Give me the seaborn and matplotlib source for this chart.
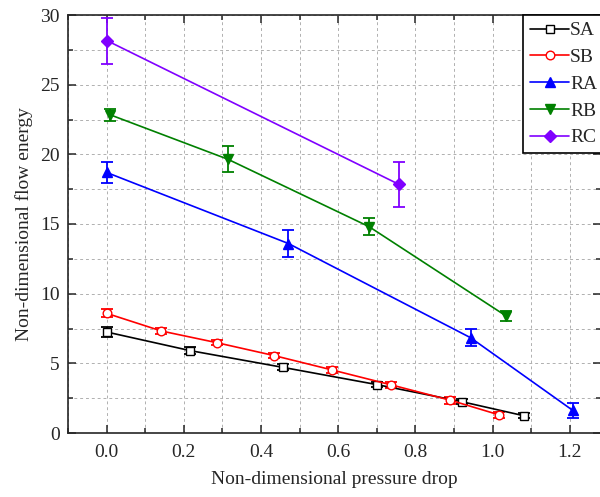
import numpy as np
import pandas as pd
import matplotlib
matplotlib.use("Agg")
import matplotlib.pyplot as plt
from matplotlib.ticker import MultipleLocator, FormatStrFormatter
import seaborn as sns

# data
sa_x = [0.0, 0.217, 0.457, 0.701, 0.920, 1.081]
sa_y = [7.25, 5.91, 4.71, 3.47, 2.25, 1.24]
sa_err = [0.35, 0.25, 0.22, 0.2, 0.2, 0.18]

sb_x = [0.0, 0.142, 0.286, 0.435, 0.585, 0.738, 0.891, 1.016]
sb_y = [8.59, 7.32, 6.48, 5.55, 4.52, 3.45, 2.35, 1.31]
sb_err = [0.3, 0.25, 0.2, 0.2, 0.2, 0.2, 0.25, 0.22]

ra_x = [0.0, 0.471, 0.943, 1.208]
ra_y = [18.7, 13.6, 6.84, 1.62]
ra_err = [0.78, 1.0, 0.6, 0.55]

rb_x = [0.01, 0.314, 0.680, 1.035]
rb_y = [22.83, 19.65, 14.81, 8.40]
rb_err = [0.45, 0.95, 0.6, 0.35]

rc_x = [0.001, 0.757]
rc_y = [28.16, 17.85]
rc_err = [1.65, 1.62]

names = ["SA", "SB", "RA", "RB", "RC"]
colors = ["black", "red", "#0000ff", "#008000", "#8000ff"]
markers = ["s", "o", "^", "v", "D"]
faces = ["white", "white", "#0000ff", "#008000", "#8000ff"]
msizes = [5.5, 6.2, 7.5, 7.5, 6.5]

series = [(sa_x, sa_y, sa_err), (sb_x, sb_y, sb_err), (ra_x, ra_y, ra_err),
          (rb_x, rb_y, rb_err), (rc_x, rc_y, rc_err)]

sns.set_style("ticks")
plt.rcParams["font.family"] = ["Liberation Serif", "DejaVu Serif"]
plt.rcParams["font.size"] = 14

fig = plt.figure(figsize=(6, 4.97), dpi=100)
ax = fig.add_axes([68 / 600, 64 / 497, 532.6 / 600, 418 / 497])

for name, col, mk, fc, ms, (xs, ys, es) in zip(names, colors, markers, faces, msizes, series):
    df = pd.DataFrame({"x": xs, "y": ys})
    ax.errorbar(xs, ys, yerr=es, fmt="none", ecolor=col, elinewidth=1.3,
                capsize=4, capthick=1.3, zorder=3)
    sns.lineplot(data=df, x="x", y="y", ax=ax, color=col, marker=mk,
                 markersize=ms, markerfacecolor=fc, markeredgecolor=col,
                 markeredgewidth=1.0, linewidth=1.2, label=name, zorder=4,
                 sort=False)

ax.set_xlim(-0.1, 1.28)
ax.set_ylim(0, 30)
ax.xaxis.set_major_locator(MultipleLocator(0.2))
ax.xaxis.set_minor_locator(MultipleLocator(0.1))
ax.xaxis.set_major_formatter(FormatStrFormatter("%.1f"))
ax.yaxis.set_major_locator(MultipleLocator(5))
ax.yaxis.set_minor_locator(MultipleLocator(2.5))

ax.grid(True, which="both", color="#b0b0b0", linestyle=(0, (3, 3)), linewidth=0.7)
ax.set_axisbelow(True)

ax.tick_params(which="both", direction="in", top=True, right=True,
               width=1.1, labelsize=14, pad=6)
ax.tick_params(axis="x", pad=8)
ax.tick_params(which="major", length=6)
ax.tick_params(which="minor", length=3.5)
for sp in ax.spines.values():
    sp.set_linewidth(1.2)

ax.set_xlabel("Non-dimensional pressure drop", fontsize=14, labelpad=7)
ax.set_ylabel("Non-dimensional flow energy", fontsize=14, labelpad=5)

leg = ax.legend(loc="upper left", bbox_to_anchor=(0.855, 1), borderaxespad=0,
                fancybox=False, framealpha=1, edgecolor="black", fontsize=14,
                handlelength=2.0, handletextpad=0.05, labelspacing=0.47,
                borderpad=0.35)
leg.get_frame().set_linewidth(1.2)

fig.savefig("out.png", dpi=100, facecolor="white")
